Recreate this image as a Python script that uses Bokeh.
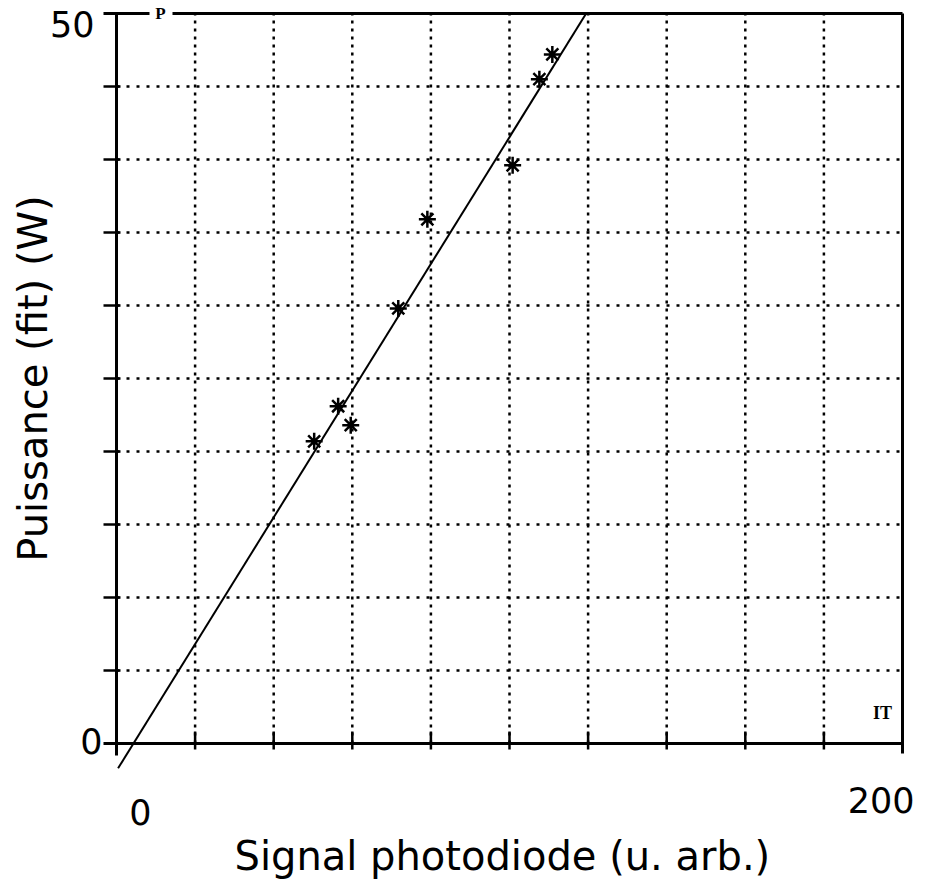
import math
from bokeh.plotting import figure
from bokeh.models import Range1d, Label
from bokeh.embed import file_html
from bokeh.resources import INLINE

# ---- data ----
signal = [50.3, 56.4, 59.6, 71.7, 79.1, 100.8, 107.6, 110.9]
power = [20.7, 23.1, 21.8, 29.8, 35.9, 39.6, 45.5, 47.2]
fit_x = [0.4, 119.5]
fit_y = [-1.7, 50.0]
x_grid = [20, 40, 60, 80, 100, 120, 140, 160, 180]
y_grid = [5, 10, 15, 20, 25, 30, 35, 40, 45]
x_min, x_max = 0, 200
y_min, y_max = 0, 50
x_label = "Signal photodiode (u. arb.)"
y_label = "Puissance (fit) (W)"

# ---- layout (pixels inside the figure canvas) ----
W, H = 916, 879
FX0, FX1 = 116, 902      # pixel of x_min, x_max
FY1, FY0 = 13, 743       # pixel (from top) of y_max, y_min
SX = (FX1 - FX0) / (x_max - x_min)
SY = (FY0 - FY1) / (y_max - y_min)
xr = Range1d(x_min - FX0 / SX, x_max + (W - FX1) / SX)
yr = Range1d(y_min - (H - FY0) / SY, y_max + FY1 / SY)


def dx(px):
    return px / SX


def dy(px):
    return px / SY


p = figure(width=W, height=H, x_range=xr, y_range=yr, output_backend="svg",
           toolbar_location=None, min_border=0,
           x_axis_location=None, y_axis_location=None)
p.grid.visible = False
p.outline_line_color = None
p.background_fill_color = "white"
p.border_fill_color = "white"

ink = "black"

# dotted grid
p.segment(x0=x_grid, y0=[y_min] * len(x_grid), x1=x_grid, y1=[y_max] * len(x_grid),
          line_color=ink, line_width=2.5, line_dash="3 5")
p.segment(x0=[x_min] * len(y_grid), y0=y_grid, x1=[x_max] * len(y_grid), y1=y_grid,
          line_color=ink, line_width=2.5, line_dash="3 7")

# frame / axes
p.segment(x0=[x_min], y0=[y_min - dy(12)], x1=[x_min], y1=[y_max], line_color=ink, line_width=3)
p.segment(x0=[x_min - dx(13)], y0=[y_min], x1=[x_max], y1=[y_min], line_color=ink, line_width=3)
p.segment(x0=[x_max], y0=[y_min - dy(10)], x1=[x_max], y1=[y_max], line_color=ink, line_width=3)
p.segment(x0=[x_min + dx(56)], y0=[y_max], x1=[x_max], y1=[y_max], line_color=ink, line_width=3)
p.segment(x0=[x_min - dx(13)], y0=[y_max], x1=[x_min + dx(33)], y1=[y_max], line_color=ink, line_width=3)

# ticks
p.segment(x0=[x_min - dx(13)] * len(y_grid), y0=y_grid, x1=[x_min + dx(4)] * len(y_grid), y1=y_grid,
          line_color=ink, line_width=2.5)
p.segment(x0=x_grid, y0=[y_min - dy(6)] * len(x_grid), x1=x_grid, y1=[y_min + dy(12)] * len(x_grid),
          line_color=ink, line_width=2.5)

# fit line and data
p.line(fit_x, fit_y, line_color=ink, line_width=2)
p.scatter(signal, power, marker="asterisk", size=17, line_color=ink, line_width=2.5)

FONT = "DejaVu Sans"


def lab(x, y, text, size, align="center", baseline="middle", angle=0.0, font=FONT, style="normal"):
    p.add_layout(Label(x=x, y=y, text=text, text_font=font, text_font_size=size,
                       text_align=align, text_baseline=baseline, angle=angle,
                       text_color=ink, text_font_style=style))


# tick labels
lab(x_min - dx(22), y_max - dy(10), str(y_max), "35px", align="right")
lab(x_min - dx(14), y_min + dy(3), str(y_min), "35px", align="right")
lab(x_min + dx(24), y_min - dy(68), str(x_min), "35px")
lab(x_max + dx(12), y_min - dy(56), str(x_max), "35px", align="right")

# axis titles
lab(x_min + dx(118), y_min - dy(112), x_label, "40px", align="left", baseline="alphabetic")
lab(x_min - dx(84), y_min + dy(365), y_label, "40px", angle=math.pi / 2)

# small marks
lab(x_min + dx(44), y_max, "P", "17px", font="Liberation Serif", style="bold")
lab(x_max - dx(20), y_min + dy(31), "IT", "18px", font="Liberation Serif", style="bold")

open("out.html", "w").write(file_html(p, INLINE))
